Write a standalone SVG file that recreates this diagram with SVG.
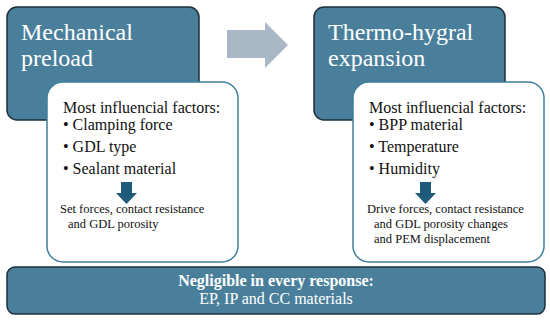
<svg xmlns="http://www.w3.org/2000/svg" width="550" height="320" viewBox="0 0 550 320">
<style>
.dark{fill:#4a7f9c;stroke:#1c2f3a;stroke-width:1.5}
.white{fill:#ffffff;stroke:#3f7f9f;stroke-width:1.5}
.title{font-family:"Liberation Serif","DejaVu Serif","Times New Roman",serif;font-size:24px;fill:#ffffff}
.t{font-family:"Liberation Serif","DejaVu Serif","Times New Roman",serif;font-size:16px;fill:#111111}
.s{font-family:"Liberation Serif","DejaVu Serif","Times New Roman",serif;font-size:12.5px;fill:#111111}
.b{font-family:"Liberation Serif","DejaVu Serif","Times New Roman",serif;font-size:16px;fill:#ffffff}
.down{fill:#1f5a7a}
</style>
<rect width="550" height="320" fill="#ffffff"/>
<g id="connectors">
<polygon points="227,30 265,30 265,22 288,45 265,68 265,58 227,58" fill="#a9b8c6"/>
</g>
<g id="mechanical">
<rect class="dark" x="7" y="7" width="192" height="113" rx="10"/>
<text class="title" x="21" y="40">Mechanical</text>
<text class="title" x="21" y="66">preload</text>
</g>
<g id="mechanical-factors">
<rect class="white" x="47" y="82" width="191" height="180" rx="16"/>
<text class="t" x="63" y="113">Most influencial factors:</text>
<text class="t" x="63" y="130">• Clamping force</text>
<text class="t" x="63" y="152">• GDL type</text>
<text class="t" x="63" y="174">• Sealant material</text>
<polygon class="down" points="121,182 132,182 132,193 137,193 126.5,204 116,193 121,193"/>
<text class="s" x="60" y="213">Set forces, contact resistance</text>
<text class="s" x="68" y="228">and GDL porosity</text>
</g>
<g id="thermo">
<rect class="dark" x="314" y="7" width="191" height="113" rx="10"/>
<text class="title" x="328" y="40">Thermo-hygral</text>
<text class="title" x="328" y="66">expansion</text>
</g>
<g id="thermo-factors">
<rect class="white" x="353" y="82" width="191" height="180" rx="16"/>
<text class="t" x="369" y="113">Most influencial factors:</text>
<text class="t" x="369" y="130">• BPP material</text>
<text class="t" x="369" y="152">• Temperature</text>
<text class="t" x="369" y="174">• Humidity</text>
<polygon class="down" points="420,182 431,182 431,193 436,193 425.5,204 415,193 420,193"/>
<text class="s" x="367" y="213">Drive forces, contact resistance</text>
<text class="s" x="374" y="228">and GDL porosity changes</text>
<text class="s" x="374" y="243">and PEM displacement</text>
</g>
<g id="negligible">
<rect class="dark" x="7" y="267" width="538" height="47" rx="8"/>
<text class="b" x="276" y="286" text-anchor="middle" font-weight="bold">Negligible in every response:</text>
<text class="b" x="276" y="304" text-anchor="middle">EP, IP and CC materials</text>
</g>
</svg>
